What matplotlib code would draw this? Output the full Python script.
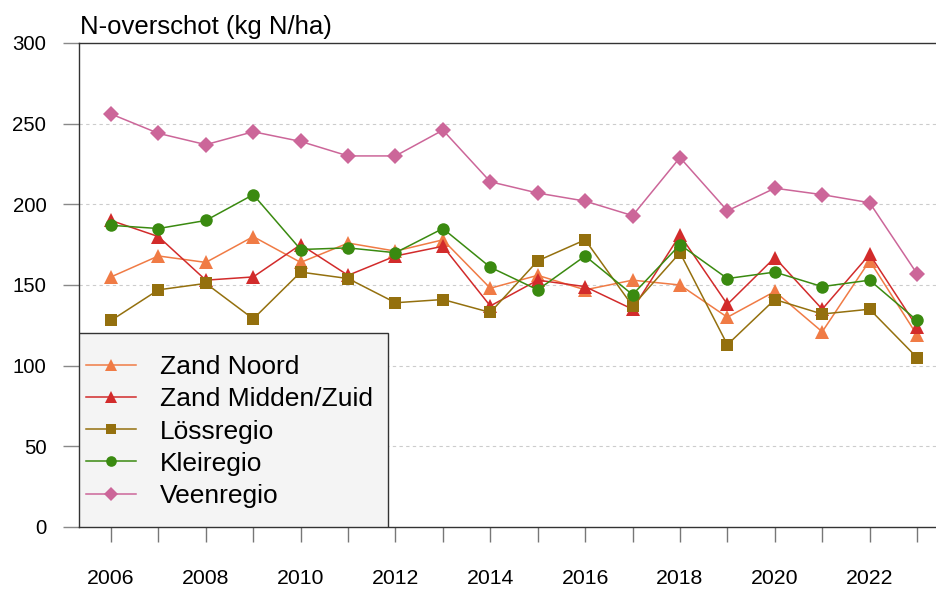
import matplotlib
matplotlib.use("Agg")
import matplotlib.pyplot as plt
from matplotlib.patches import Rectangle

plt.rcParams["font.family"] = ["Liberation Sans", "DejaVu Sans"]

years = list(range(2006, 2024))

zand_noord = [155, 168, 164, 180, 164, 176, 171, 178, 148, 156, 147, 153, 150, 130, 146, 121, 165, 119]
zand_midden_zuid = [190, 180, 153, 155, 175, 156, 168, 174, 137, 153, 149, 135, 181, 138, 167, 135, 169, 124]
lossregio = [128, 147, 151, 129, 158, 154, 139, 141, 133, 165, 178, 137, 170, 113, 141, 132, 135, 105]
kleiregio = [187, 185, 190, 206, 172, 173, 170, 185, 161, 147, 168, 144, 175, 154, 158, 149, 153, 128]
veenregio = [256, 244, 237, 245, 239, 230, 230, 246, 214, 207, 202, 193, 229, 196, 210, 206, 201, 157]

series = [
    ("Zand Noord", zand_noord, "#F07B45", "^", 10.5),
    ("Zand Midden/Zuid", zand_midden_zuid, "#D22B2B", "^", 10.5),
    ("Lössregio", lossregio, "#94700E", "s", 8.5),
    ("Kleiregio", kleiregio, "#3A8A10", "o", 9),
    ("Veenregio", veenregio, "#CC6699", "D", 8),
]

W, H = 936, 589
fig = plt.figure(figsize=(W / 100, H / 100), dpi=100)
ax = fig.add_axes([79 / W, 62 / H, (W - 79) / W, (527 - 43) / H])

# dashed grid, 0 and 300 are drawn by the spines
for y in [50, 100, 150, 200, 250]:
    ax.axhline(y, color="#cccccc", linewidth=0.8, linestyle=(0, (3, 3)), zorder=1)

handles = []
for label, values, color, marker, ms in series:
    (ln,) = ax.plot(years, values, color=color, marker=marker, markersize=ms,
                    linewidth=1.1, markeredgewidth=0, label=label, zorder=3)
    handles.append(ln)

ax.set_xlim(2005.325, 2023.4)
ax.set_ylim(0, 300)
ax.set_yticks([0, 50, 100, 150, 200, 250, 300])
ax.set_xticks(years)
ax.set_xticklabels([str(y) if y % 2 == 0 else "" for y in years])

ax.spines["right"].set_visible(False)
for side in ["left", "top", "bottom"]:
    ax.spines[side].set_color("#333333")
    ax.spines[side].set_linewidth(1.0)

ax.tick_params(axis="y", length=11.5, width=1.0, color="#888888", pad=12, labelsize=14.7)
ax.tick_params(axis="x", length=11, width=1.0, color="#777777", pad=19.5, labelsize=15.3)

fig.text(80 / W, 1 - 34 / H, "N-overschot (kg N/ha)", fontsize=18.5, va="baseline", ha="left")

box = Rectangle((0, 0), (388 - 79) / (W - 79), (527 - 333) / 484, transform=ax.transAxes,
                facecolor="#f4f4f4", edgecolor="#333333", linewidth=1.0, zorder=4)
ax.add_patch(box)

leg = ax.legend(handles=handles, loc="upper left", bbox_to_anchor=(0.008, 0.355),
                frameon=False, fontsize=19, handlelength=1.9, handletextpad=0.9,
                labelspacing=0.31, borderpad=0, borderaxespad=0, markerscale=0.85)
leg.set_zorder(5)

fig.savefig("out.png", dpi=100)
